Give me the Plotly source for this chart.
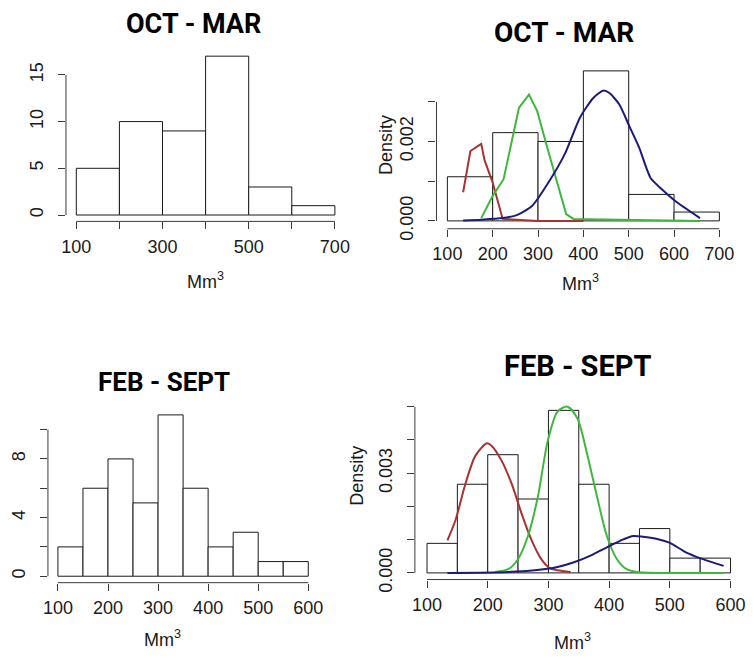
import plotly.graph_objects as go

W, H = 753, 665

# ---------------- data ----------------
# OCT - MAR histogram (bins of 100 from 100 to 700)
om_edges = [100, 200, 300, 400, 500, 600, 700]
om_counts = [5, 10, 9, 17, 3, 1]
# FEB - SEPT histogram (bins of 50 from 100 to 600)
fs_edges = [100, 150, 200, 250, 300, 350, 400, 450, 500, 550, 600]
fs_counts = [2, 6, 8, 5, 11, 6, 2, 3, 1, 1]

# mixture component curves (density), OCT - MAR
om_red_x = [134.8, 150.8, 174.7, 182, 200, 222, 300, 400]
om_red_y = [0.00072, 0.00176, 0.00194, 0.00153, 0.00096, 0.00005, 0.0, 0.0]
om_green_x = [174.7, 200, 224, 258, 280, 298, 320, 341.6, 362, 378, 657]
om_green_y = [0.00007, 0.00063, 0.00105, 0.00285, 0.00318, 0.00277, 0.00186, 0.00096, 0.00017, 0.00005, 0.0]
om_blue_x = [134.8, 174.7, 221.9, 254.5, 287.2, 327, 359.7, 392.4, 421.4, 443.1, 457.6,
             479.4, 501.2, 522.9, 548.3, 573.7, 602.8, 657.2]
om_blue_y = [0.00001, 0.00003, 0.00007, 0.00015, 0.00038, 0.00104, 0.00170, 0.00260, 0.00309,
             0.00328, 0.00322, 0.00293, 0.00239, 0.00185, 0.00108, 0.00079, 0.00050, 0.00007]

# mixture component curves (density), FEB - SEPT
fs_red_x = [133.6, 147.1, 163.4, 179.6, 198.6, 206.7, 223, 239.2, 255.5, 271.7, 288, 301.5, 315, 336.7]
fs_red_y = [0.00098, 0.00160, 0.00269, 0.00352, 0.00390, 0.00382, 0.00337, 0.00269, 0.00180,
            0.00101, 0.00042, 0.00015, 0.00008, 0.00003]
fs_green_x = [212.1, 233.8, 250, 266.3, 282.6, 298.8, 315, 331.3, 347.6, 363.8, 380.1, 396.3,
              412.6, 428.9, 445.1, 588.7]
fs_green_y = [0.00003, 0.00011, 0.00042, 0.00111, 0.00229, 0.00396, 0.00485, 0.00500, 0.00465,
              0.00357, 0.00229, 0.00111, 0.00042, 0.00011, 0.00003, 0.0]
fs_blue_x = [133.6, 233.8, 277.2, 315, 342.2, 369.3, 396.3, 423.4, 439.7, 455.9, 477.6, 499.3,
             526.4, 553.5, 588.7]
fs_blue_y = [0.0, 0.00003, 0.00008, 0.00018, 0.00032, 0.00052, 0.00077, 0.00101, 0.00111,
             0.00109, 0.00103, 0.00091, 0.00062, 0.00042, 0.00021]

titles = ["OCT - MAR", "OCT - MAR", "FEB - SEPT", "FEB - SEPT"]

# ticks: labelled (major) and unlabelled (minor)
om_xticks_hist = [100, 300, 500, 700]
om_xminor_hist = [200, 400, 600]
om_xticks_dens = [100, 200, 300, 400, 500, 600, 700]
om_yticks_hist = [0, 5, 10, 15]
om_yticks_dens = [0, 0.002]
om_yminor_dens = [0.001, 0.003]
om_ylabels_dens = ["0.000", "0.002"]
fs_xticks = [100, 200, 300, 400, 500, 600]
fs_yticks_hist = [0, 4, 8]
fs_yminor_hist = [2, 6, 10]
fs_yticks_dens = [0, 0.003]
fs_yminor_dens = [0.001, 0.002, 0.004, 0.005]
fs_ylabels_dens = ["0.000", "0.003"]

RED = "#A83232"
GREEN = "#3DB83D"
BLUE = "#1C1C78"
TICKFONT = dict(family="Liberation Sans, Arial", size=18, color="#1a1a1a")
TITLE_FAMILY = "Roboto, Liberation Sans, Arial"
title_sizes = [27, 28, 26, 29]

# panel pixel boxes: (left, right, top, bottom) and axis ranges
panels = [
    dict(px=(61.8, 344.8, 50.8, 225.8), xr=[76, 724], yr=[-0.68, 17.68]),
    dict(px=(437.3, 735.0, 63.3, 233.3), xr=[76, 724], yr=[-0.000198, 0.0040]),
    dict(px=(43.5, 317.5, 416.6, 594.3), xr=[80, 620], yr=[-0.44, 11.44]),
    dict(px=(415.4, 747.6, 408.0, 591.1), xr=[80, 620], yr=[-0.0002, 0.0052]),
]


def centers(edges):
    return [(a + b) / 2 for a, b in zip(edges[:-1], edges[1:])]


def widths(edges):
    return [b - a for a, b in zip(edges[:-1], edges[1:])]


def density(counts, edges):
    n = sum(counts)
    return [c / (n * w) for c, w in zip(counts, widths(edges))]


fig = go.Figure()

bar_style = dict(marker=dict(color="white", line=dict(color="#1a1a1a", width=1)), showlegend=False,
                 hoverinfo="skip")

# panel 1
fig.add_trace(go.Bar(x=centers(om_edges), y=om_counts, width=widths(om_edges), xaxis="x", yaxis="y", **bar_style))
# panel 2
fig.add_trace(go.Bar(x=centers(om_edges), y=density(om_counts, om_edges), width=widths(om_edges),
                     xaxis="x2", yaxis="y2", **bar_style))
for xs, ys, c, shp in [(om_red_x, om_red_y, RED, "linear"), (om_green_x, om_green_y, GREEN, "linear"),
                       (om_blue_x, om_blue_y, BLUE, "spline")]:
    fig.add_trace(go.Scatter(x=xs, y=ys, mode="lines", line=dict(color=c, width=2, shape=shp, smoothing=0.6),
                             xaxis="x2", yaxis="y2", showlegend=False))
# panel 3
fig.add_trace(go.Bar(x=centers(fs_edges), y=fs_counts, width=widths(fs_edges), xaxis="x3", yaxis="y3", **bar_style))
# panel 4
fig.add_trace(go.Bar(x=centers(fs_edges), y=density(fs_counts, fs_edges), width=widths(fs_edges),
                     xaxis="x4", yaxis="y4", **bar_style))
for xs, ys, c in [(fs_red_x, fs_red_y, RED), (fs_green_x, fs_green_y, GREEN), (fs_blue_x, fs_blue_y, BLUE)]:
    fig.add_trace(go.Scatter(x=xs, y=ys, mode="lines", line=dict(color=c, width=2, shape="spline", smoothing=0.8),
                             xaxis="x4", yaxis="y4", showlegend=False))

xtick_sets = [(om_xticks_hist, [str(v) for v in om_xticks_hist], om_xminor_hist),
              (om_xticks_dens, [str(v) for v in om_xticks_dens], []),
              (fs_xticks, [str(v) for v in fs_xticks], []),
              (fs_xticks, [str(v) for v in fs_xticks], [])]
ytick_sets = [(om_yticks_hist, [str(v) for v in om_yticks_hist], []),
              (om_yticks_dens, om_ylabels_dens, om_yminor_dens),
              (fs_yticks_hist, [str(v) for v in fs_yticks_hist], fs_yminor_hist),
              (fs_yticks_dens, fs_ylabels_dens, fs_yminor_dens)]

layout = dict(width=W, height=H, margin=dict(l=0, r=0, t=0, b=0), plot_bgcolor="white",
              paper_bgcolor="white", bargap=0, barmode="overlay", shapes=[], annotations=[])

AXCOL = "#3a3a3a"


def axis_dict(domain, rng, anchor, vals, texts, minor, angle, standoff):
    d = dict(domain=domain, range=rng, anchor=anchor, tickmode="array", tickvals=vals, ticktext=texts,
             ticks="outside", ticklen=7, tickwidth=1, tickcolor=AXCOL, showline=False, showgrid=False,
             zeroline=False, tickfont=TICKFONT, fixedrange=True, tickangle=angle,
             ticklabelstandoff=standoff, ticklabeloverflow="allow")
    if minor:
        d["minor"] = dict(tickmode="array", tickvals=minor, ticks="outside", ticklen=7, tickwidth=1,
                          tickcolor=AXCOL, showgrid=False)
    return d


for i, p in enumerate(panels):
    l, r, t, b = p["px"]
    sfx = "" if i == 0 else str(i + 1)
    xv, xt, xm = xtick_sets[i]
    yv, yt, ym = ytick_sets[i]
    layout["xaxis" + sfx] = axis_dict([l / W, r / W], p["xr"], "y" + sfx, xv, xt, xm, 0, 2)
    layout["yaxis" + sfx] = axis_dict([1 - b / H, 1 - t / H], p["yr"], "x" + sfx, yv, yt, ym, -90, 8)
    allx = xv + xm
    ally = yv + ym
    # R-style axis lines spanning first to last tick
    layout["shapes"].append(dict(type="line", xref="x" + sfx, yref="y" + sfx + " domain",
                                 x0=min(allx), x1=max(allx), y0=0, y1=0, line=dict(color=AXCOL, width=1)))
    layout["shapes"].append(dict(type="line", xref="x" + sfx + " domain", yref="y" + sfx,
                                 x0=0, x1=0, y0=min(ally), y1=max(ally), line=dict(color=AXCOL, width=1)))

# titles (pixel centres)
title_pos = [(190.7, 24), (566.6, 33), (161, 390), (580, 373)]
for (cx, cy), txt, sz in zip(title_pos, titles, title_sizes):
    layout["annotations"].append(dict(text="<b>%s</b>" % txt, x=cx / W, y=1 - cy / H, xref="paper",
                                      yref="paper", showarrow=False,
                                      font=dict(family=TITLE_FAMILY, size=sz, color="black"),
                                      xanchor="center", yanchor="middle"))

# x axis titles
mm_pos = [(203, 286), (583, 288), (160, 651), (575, 654)]
for cx, cy in mm_pos:
    layout["annotations"].append(dict(text="Mm<sup>3</sup>", x=cx / W, y=1 - cy / H, xref="paper",
                                      yref="paper", showarrow=False, font=TICKFONT,
                                      xanchor="center", yanchor="middle"))
# y axis titles
dens_pos = [(386, 148), (356, 485)]
for cx, cy in dens_pos:
    layout["annotations"].append(dict(text="Density", x=cx / W, y=1 - cy / H, xref="paper",
                                      yref="paper", showarrow=False, font=TICKFONT, textangle=-90,
                                      xanchor="center", yanchor="middle"))

fig.update_layout(**layout)
fig.write_html("out.html", config={"displayModeBar": False, "staticPlot": True},
               post_script="document.body.style.margin='0';document.body.style.padding='0';"
                           "document.body.style.overflow='hidden';")
